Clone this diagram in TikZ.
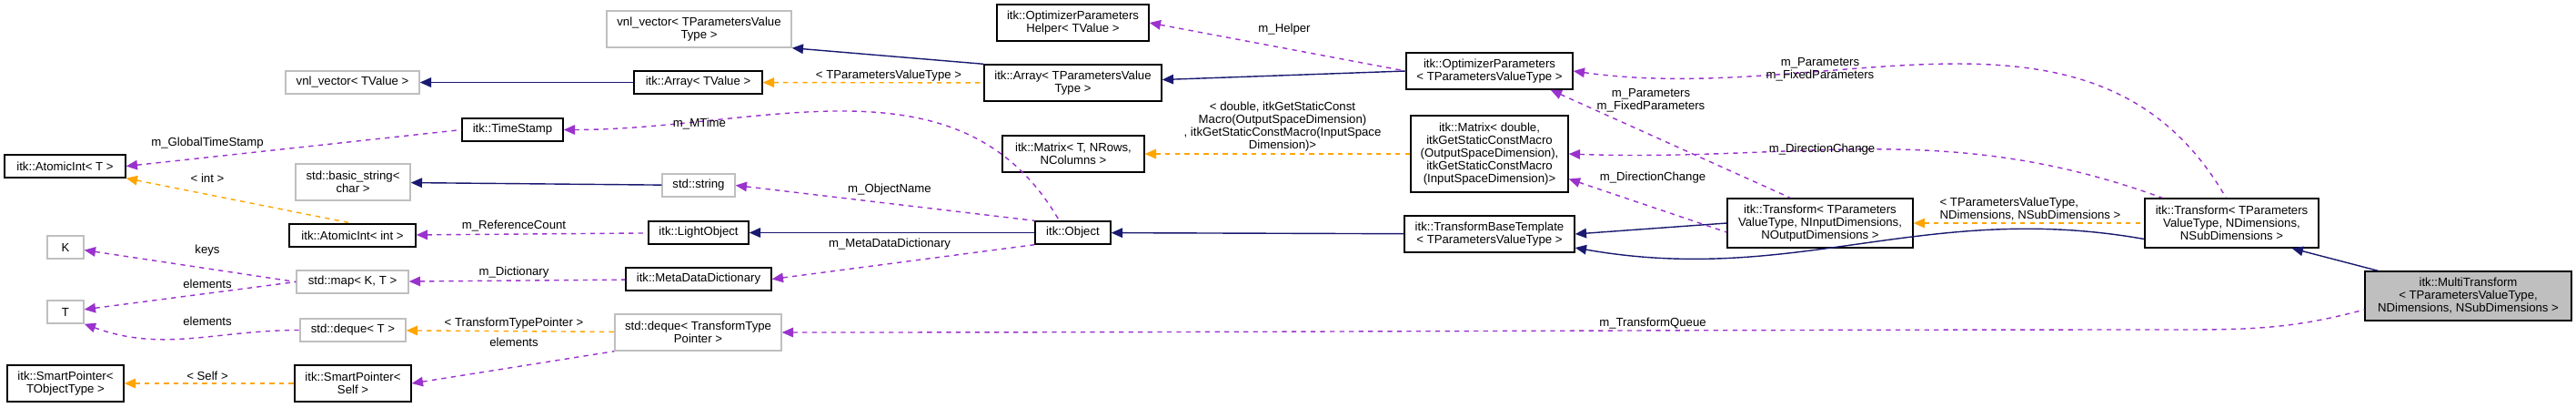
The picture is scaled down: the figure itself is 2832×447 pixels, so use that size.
\documentclass[tikz,border=0pt]{standalone}
\usepackage{fontspec}
\setmainfont{Liberation Sans}
\usetikzlibrary{arrows.meta}
\definecolor{inhcol}{HTML}{191970}
\definecolor{usecol}{HTML}{9A32CD}
\definecolor{tplcol}{HTML}{FFA500}
\tikzset{
  >={Triangle[length=7pt,width=6pt]},
  cls/.style={
    rectangle,
    draw=black, thick,
    fill=white,
    font=\fontsize{7.5}{8}\selectfont,
    align=center,
    inner sep=1pt},
  ext/.style={cls, draw=black!25},
  self/.style={cls, fill=black!25},
  sz/.style 2 args={minimum width=#1*0.02cm, minimum height=#2*0.02cm},
  inh/.style={draw=inhcol, thick, <-},
  use/.style={draw=usecol, thick, dashed, <-},
  tpl/.style={draw=tplcol, thick, dashed, <-},
  lbl/.style={font=\fontsize{7.5}{8}\selectfont, align=center, inner sep=0pt},
}

\begin{document}
\begin{tikzpicture}[x=0.02cm, y=-0.02cm]
  \useasboundingbox (0,0) rectangle (2832,447);
  % classes
  \node[ext, sz={147}{25}] (vnlvalue)  at (387.5,90.5) {vnl\_vector< TValue >};
  \node[ext, sz={203}{40}] (vnlparams) at (768.5,32)   {vnl\_vector< TParametersValue\\Type >};
  \node[cls, sz={141}{25}] (arrvalue)  at (767.5,90.5) {itk::Array< TValue >};
  \node[cls, sz={195}{40}] (arrparams) at (1179.5,91)  {itk::Array< TParametersValue\\Type >};
  \node[cls, sz={167}{40}] (helper)    at (1179.5,25)  {itk::OptimizerParameters\\Helper< TValue >};
  \node[cls, sz={183}{40}] (optparams) at (1637.5,78)  {itk::OptimizerParameters\\< TParametersValueType >};
  \node[cls, sz={156}{40}] (matgen)    at (1180,169)   {itk::Matrix< T, NRows,\\NColumns >};
  \node[cls, sz={173}{84}] (matdir)    at (1637.5,169) {itk::Matrix< double,\\itkGetStaticConstMacro\\(OutputSpaceDimension),\\itkGetStaticConstMacro\\(InputSpaceDimension)>};
  \node[cls, sz={111}{25}] (stamp)     at (563.5,142.5) {itk::TimeStamp};
  \node[cls, sz={133}{25}] (atomicT)   at (71.5,182.5) {itk::AtomicInt< T >};
  \node[ext, sz={126}{40}] (basicstr)  at (388,200)    {std::basic\_string<\\char >};
  \node[ext, sz={80}{25}]  (stdstr)    at (768,203.5)  {std::string};
  \node[cls, sz={139}{25}] (atomicint) at (387.5,258.5) {itk::AtomicInt< int >};
  \node[cls, sz={110}{25}] (lightobj)  at (768,255.5)  {itk::LightObject};
  \node[cls, sz={83}{25}]  (object)    at (1179.5,255.5) {itk::Object};
  \node[cls, sz={187}{40}] (basetpl)   at (1637.5,257) {itk::TransformBaseTemplate\\< TParametersValueType >};
  \node[cls, sz={204}{54}] (trfinout)  at (2001,245)   {itk::Transform< TParameters\\ValueType, NInputDimensions,\\NOutputDimensions >};
  \node[cls, sz={191}{54}] (trfdims)   at (2453.5,245) {itk::Transform< TParameters\\ValueType, NDimensions,\\NSubDimensions >};
  \node[self, sz={227}{54}] (multi)    at (2713.5,325) {itk::MultiTransform\\< TParametersValueType,\\NDimensions, NSubDimensions >};
  \node[ext, sz={40}{25}]  (keyK)      at (72,271.5)   {K};
  \node[ext, sz={123}{25}] (stdmap)    at (387.5,309.5) {std::map< K, T >};
  \node[cls, sz={160}{25}] (metadict)  at (768,306.5)  {itk::MetaDataDictionary};
  \node[ext, sz={40}{25}]  (elemT)     at (72,342.5)   {T};
  \node[ext, sz={116}{25}] (dequeT)    at (388,362.5)  {std::deque< T >};
  \node[ext, sz={183}{40}] (dequeP)    at (767.5,365)  {std::deque< TransformType\\Pointer >};
  \node[cls, sz={128}{40}] (smartobj)  at (72,421)     {itk::SmartPointer<\\TObjectType >};
  \node[cls, sz={128}{40}] (smartself) at (388,421)    {itk::SmartPointer<\\Self >};
  % inheritance
  \draw[inh] (vnlvalue) -- (arrvalue);
  \draw[inh] (vnlparams.south east) -- (arrparams.north west);
  \draw[inh] (arrparams) -- (optparams.west);
  \draw[inh] (basicstr) -- (stdstr);
  \draw[inh] (lightobj) -- (object);
  \draw[inh] (object) -- (basetpl);
  \draw[inh] (basetpl.east) -- (trfinout.west);
  \draw[inh] ([yshift=-0.3cm]basetpl.east) to[out=-10,in=170] ([yshift=-0.35cm]trfdims.west);
  \draw[inh] (trfdims.south east) ++(-30,0) coordinate (tdse) (tdse) -- ([xshift=0.3cm]multi.north west);
  % members
  \draw[use] (helper.east) -- (optparams.west);
  \draw[use] ([xshift=-0.5cm]optparams.south east) -- ([xshift=1.4cm]trfinout.north west);
  \draw[use] (optparams.east) to[out=-8,in=120] ([xshift=1.8cm]trfdims.north west);
  \draw[use] ([yshift=-0.55cm]matdir.east) -- ([yshift=-0.2cm]trfinout.west);
  \draw[use] (matdir.east) to[out=-2,in=160] ([xshift=0.4cm]trfdims.north west);
  \draw[use] (stamp.east) to[out=0,in=120] ([xshift=-0.3cm]object.north);
  \draw[use] (atomicT.east) -- (stamp.west);
  \draw[use] (stdstr.east) -- (object.north west);
  \draw[use] (atomicint) -- (lightobj);
  \draw[use] (metadict.east) -- (object.south west);
  \draw[use] (stdmap) -- (metadict);
  \draw[use] (keyK) -- (stdmap.west);
  \draw[use] (elemT) -- (stdmap.west);
  \draw[use] (elemT.south east) to[out=-20,in=180] (dequeT.west);
  \draw[use] (smartself.east) -- (dequeP.south west);
  \draw[use] (dequeP) to[out=0,in=180] (2400,362) to[out=0,in=195] ([yshift=-0.3cm]multi.west);
  % template instances
  \draw[tpl] (atomicT.south east) -- (atomicint.north);
  \draw[tpl] (arrvalue) -- (arrparams);
  \draw[tpl] (matgen) -- (matdir);
  \draw[tpl] (dequeT) -- (dequeP);
  \draw[tpl] (smartobj) -- (smartself);
  \draw[tpl] (trfinout) -- (trfdims);
  % labels
  \node[lbl] (lhelper) at (1412,32)   {m\_Helper};
  \node[lbl] (lparin)  at (1815,110)  {m\_Parameters\\m\_FixedParameters};
  \node[lbl] (lpardim) at (2001,76)   {m\_Parameters\\m\_FixedParameters};
  \node[lbl] (ldirin)  at (1817,195)  {m\_DirectionChange};
  \node[lbl] (ldirdim) at (2003,164)  {m\_DirectionChange};
  \node[lbl] (lmtime)  at (769,136)   {m\_MTime};
  \node[lbl] (lglobal) at (228,157)   {m\_GlobalTimeStamp};
  \node[lbl] (lname)   at (978,208)   {m\_ObjectName};
  \node[lbl] (lref)    at (565,248)   {m\_ReferenceCount};
  \node[lbl] (lmeta)   at (978,268)   {m\_MetaDataDictionary};
  \node[lbl] (ldict)   at (565,299)   {m\_Dictionary};
  \node[lbl] (lkeys)   at (228,275)   {keys};
  \node[lbl] (lelmap)  at (228,312)   {elements};
  \node[lbl] (leldq)   at (228,353)   {elements};
  \node[lbl] (lelsp)   at (565,376)   {elements};
  \node[lbl] (lqueue)  at (1817,355)  {m\_TransformQueue};
  \node[lbl] (lint)    at (228,196)   {< int >};
  \node[lbl] (lpvt)    at (977,83)    {< TParametersValueType >};
  \node[lbl] (ldouble) at (1410,139)  {< double, itkGetStaticConst\\Macro(OutputSpaceDimension)\\, itkGetStaticConstMacro(InputSpace\\Dimension)>};
  \node[lbl] (lttp)    at (565,355)   {< TransformTypePointer >};
  \node[lbl] (lself)   at (228,413)   {< Self >};
  \node[lbl, align=left] (ldims) at (2232,230) {< TParametersValueType,\\NDimensions, NSubDimensions >};
\end{tikzpicture}
\end{document}
